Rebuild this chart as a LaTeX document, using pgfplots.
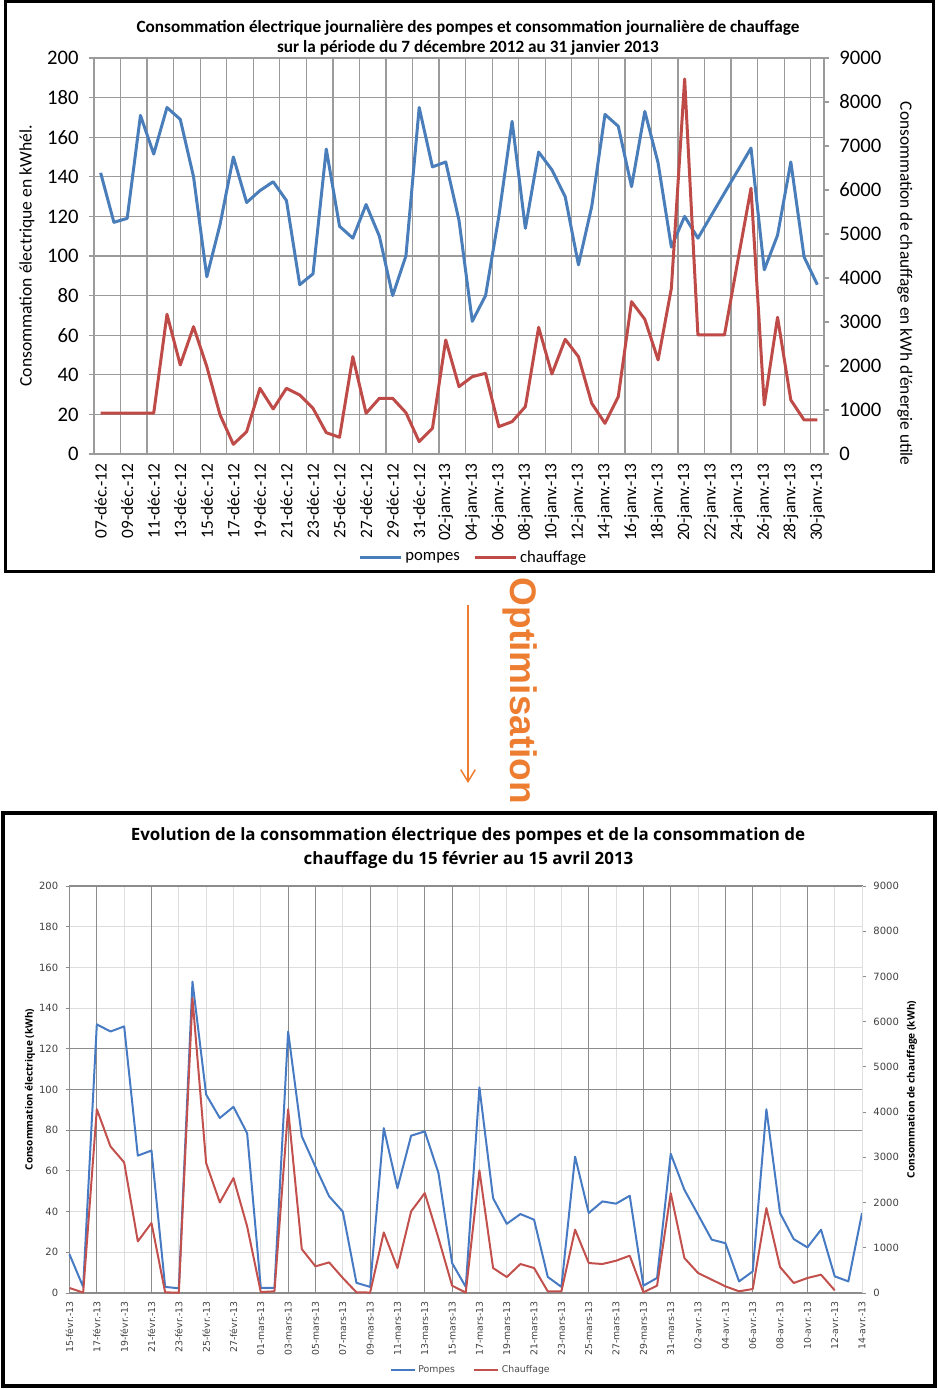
\documentclass[border=0pt]{standalone}
\usepackage{fontspec}
\setmainfont{Carlito}
\newfontfamily\ctwo{DejaVu Sans}
\newfontfamily\ctwot{Open Sans}
\newfontfamily\optfont{Liberation Sans}
\usepackage{pgfplots}
\usepackage{pgfplotstable}
\pgfplotsset{compat=1.18}
\usetikzlibrary{arrows.meta}

\definecolor{c1blue}{RGB}{74,126,187}
\definecolor{c1red}{RGB}{190,75,72}
\definecolor{c2blue}{RGB}{70,122,195}
\definecolor{c2red}{RGB}{194,80,77}
\definecolor{gridg}{RGB}{155,155,155}
\definecolor{gridl}{RGB}{222,222,222}
\definecolor{gridd}{RGB}{140,140,140}
\definecolor{orng}{RGB}{237,125,49}

% chart 1 : 07 dec 2012 (day 0) -> 30 jan 2013 (day 54)
\pgfplotstableread{
d v
0 142
1 117
2 119
3 171
4 151.5
5 175
6 169
7 140
8 89.5
9 116
10 150
11 127
12 133
13 137.5
14 128
15 85.5
16 91
17 154
18 115
19 109
20 126
21 110
22 80
23 100
24 175
25 145
26 147.5
27 118
28 67
29 80
30 120
31 168
32 114
33 152.5
34 143.5
35 130
36 95.5
37 125
38 171.5
39 165.5
40 135
41 173
42 147
43 104.5
44 120
45 109
46 120.4
47 131.8
48 143.1
49 154.5
50 93
51 110.5
52 147.5
53 99.5
54 85.5
}\pompesA

\pgfplotstableread{
d v
0 930
1 930
2 930
3 930
4 930
5 3175
6 2023
7 2894
8 1985
9 886
10 220
11 507
12 1493
13 1023
14 1493
15 1341
16 1038
17 485
18 379
19 2212
20 925
21 1265
22 1265
23 940
24 280
25 583
26 2591
27 1530
28 1758
29 1834
30 621
31 735
32 1076
33 2879
34 1818
35 2606
36 2212
37 1152
38 697
39 1303
40 3462
41 3061
42 2137
43 3766
44 8524
45 2705
46 2705
47 2705
48 4380
49 6039
50 1114
51 3107
52 1227
53 773
54 773
}\chauffA

% chart 2 : 15 feb 2013 (day 0) -> 14 apr 2013 (day 58)
\pgfplotstableread{
d v
0 19
1 3
2 132
3 128.5
4 131
5 67.5
6 70
7 3
8 2.3
9 153
10 97.5
11 86
12 91.5
13 78.5
14 2.5
15 2.5
16 128.5
17 77
18 62
19 47.5
20 40
21 5
22 3
23 81
24 51.5
25 77.3
26 79.4
27 59
28 14.7
29 3
30 101
31 46.6
32 34
33 38.8
34 36
35 7.9
36 3
37 67
38 39.3
39 45
40 43.9
41 47.8
42 3.6
43 7.4
44 68.4
45 50.7
46 38.5
47 26.2
48 24.5
49 5.7
50 10.6
51 90.3
52 39.3
53 26.5
54 22.4
55 31.1
56 8.2
57 5.7
58 39.3
}\pompesB

\pgfplotstableread{
d v
0 110
1 10
2 4065
3 3240
4 2888
5 1142
6 1547
7 15
8 5
9 6518
10 2872
11 2003
12 2541
13 1473
14 20
15 37
16 4065
17 972
18 589
19 677
20 332
21 15
22 10
23 1340
24 552
25 1804
26 2209
27 1215
28 162
29 10
30 2710
31 552
32 353
33 641
34 552
35 37
36 37
37 1400
38 663
39 641
40 714
41 825
42 15
43 162
44 2209
45 773
46 442
47 295
48 147
49 37
50 88
51 1878
52 574
53 221
54 331
55 405
56 59
}\chauffB

\begin{document}
\begin{tikzpicture}
\path[use as bounding box] (0,0) rectangle (703.5pt,1041.75pt);

% ---------- chart 1 ----------
\pgfplotsset{
  chartone/.style={
    at={(70.5pt,701.25pt)}, anchor=south west,
    scale only axis, width=547.5pt, height=297pt,
    xmin=-0.5, xmax=54.5, clip=false,
    axis line style={draw=gridg, line width=0.9pt},
    tick align=outside, major tick length=4pt,
    x tick style={draw=none},
    y tick style={draw=gridg, line width=0.9pt},
    tick label style={font=\fontsize{15.5}{16}\selectfont},
    /pgf/number format/assume math mode=true,
    /pgf/number format/1000 sep={},
    scaled y ticks=false,
  }
}
\begin{axis}[chartone,
  ymin=0, ymax=200, ytick={0,20,...,200}, ytick pos=left,
  xtick={0,2,...,54},
  xticklabels={07-déc.-12,09-déc.-12,11-déc.-12,13-déc.-12,15-déc.-12,17-déc.-12,19-déc.-12,21-déc.-12,23-déc.-12,25-déc.-12,27-déc.-12,29-déc.-12,31-déc.-12,02-janv.-13,04-janv.-13,06-janv.-13,08-janv.-13,10-janv.-13,12-janv.-13,14-janv.-13,16-janv.-13,18-janv.-13,20-janv.-13,22-janv.-13,24-janv.-13,26-janv.-13,28-janv.-13,30-janv.-13},
  xticklabel style={rotate=90, anchor=east, font=\fontsize{13}{13}\selectfont},
  yticklabel style={xshift=-4pt},
  minor xtick={1.5,3.5,...,53.5},
  xminorgrids=true, ymajorgrids=true,
  minor grid style={draw=gridg, line width=0.9pt},
  major grid style={draw=gridg, line width=0.9pt},
  every axis y label/.style={at={(axis description cs:-0.092,0.5)}, rotate=90, anchor=center,
    font=\fontsize{13.2}{14}\selectfont},
  ylabel={Consommation électrique en kWhél.},
]
\addplot[c1blue, line width=2.25pt, line join=round] table[x=d, y=v] {\pompesA};
\end{axis}
\begin{axis}[chartone,
  ymin=0, ymax=9000, ytick={0,1000,...,9000},
  axis x line=none, axis y line*=right,
  yticklabel style={xshift=4pt},
  every axis y label/.style={at={(axis description cs:1.111,0.43)}, rotate=-90, anchor=center,
    font=\fontsize{13}{14}\selectfont},
  ylabel={Consommation de chauffage en kWh d’énergie utile},
  legend style={at={(0.52,-0.262)}, anchor=center, draw=none, fill=none,
    legend columns=2, font=\fontsize{12.5}{13}\selectfont,
    /tikz/every even column/.append style={column sep=8pt}},
  legend image code/.code={\draw[#1] (0pt,0pt) -- (31pt,0pt);},
]
\addlegendimage{c1blue, line width=2.25pt}
\addlegendentry{pompes}
\addplot[c1red, line width=2.25pt, line join=round] table[x=d, y=v] {\chauffA};
\addlegendentry{chauffage}
\end{axis}

\node[font=\bfseries\fontsize{12.9}{13}\selectfont] at (351pt,1020.75pt)
  {Consommation électrique journalière des pompes et consommation journalière de chauffage};
\node[font=\bfseries\fontsize{12.9}{13}\selectfont] at (351pt,1005.75pt)
  {sur la période du 7 décembre 2012 au 31 janvier 2013};
\draw[line width=2.25pt] (3.75pt,1040.25pt) rectangle (699.75pt,612.75pt);

% ---------- arrow ----------
\draw[orng, line width=1.1pt, -{Straight Barb[length=9pt,width=11pt]}] (351pt,588pt) -- (351pt,454.5pt);
\node[orng, rotate=-90, font=\optfont\bfseries\fontsize{27.75}{28}\selectfont] at (390pt,523.5pt) {Optimisation};

% ---------- chart 2 ----------
\pgfplotsset{
  charttwo/.style={
    at={(52.125pt,72pt)}, anchor=south west,
    scale only axis, width=594.4pt, height=305.25pt,
    xmin=0, xmax=58, clip=false,
    axis line style={draw=gridd, line width=0.8pt},
    tick align=outside, major tick length=3pt,
    x tick style={draw=none},
    y tick style={draw=gridd, line width=0.6pt},
    tick label style={font=\ctwo\fontsize{7.5}{8}\selectfont, text=black!75},
    /pgf/number format/assume math mode=true,
    /pgf/number format/1000 sep={},
    scaled y ticks=false,
  }
}
\begin{axis}[charttwo,
  ymin=0, ymax=200, ytick={0,20,...,200}, ytick pos=left,
  xtick={0,2,...,58},
  xticklabels={15-févr.-13,17-févr.-13,19-févr.-13,21-févr.-13,23-févr.-13,25-févr.-13,27-févr.-13,01-mars-13,03-mars-13,05-mars-13,07-mars-13,09-mars-13,11-mars-13,13-mars-13,15-mars-13,17-mars-13,19-mars-13,21-mars-13,23-mars-13,25-mars-13,27-mars-13,29-mars-13,31-mars-13,02-avr.-13,04-avr.-13,06-avr.-13,08-avr.-13,10-avr.-13,12-avr.-13,14-avr.-13},
  xticklabel style={rotate=90, anchor=east, font=\ctwo\fontsize{7}{7}\selectfont},
  yticklabel style={xshift=-2pt},
  xmajorgrids=true, ymajorgrids=true,
  major grid style={draw=gridl, line width=0.8pt},
  extra x ticks={2,6,16,18,22,26,28,38,42,44,48,50,54},
  extra x tick labels={},
  extra x tick style={grid=major, major grid style={draw=gridd, line width=0.8pt}},
  extra y ticks={80,100,120},
  extra y tick labels={},
  extra y tick style={grid=major, major grid style={draw=gridd, line width=0.8pt}},
  every axis y label/.style={at={(axis description cs:-0.05,0.5)}, rotate=90, anchor=center,
    font=\ctwot\bfseries\fontsize{7.5}{8}\selectfont},
  ylabel={Consommation électrique (kWh)},
]
\addplot[c2blue, line width=1.5pt, line join=round] table[x=d, y=v] {\pompesB};
\end{axis}
\begin{axis}[charttwo,
  ymin=0, ymax=9000, ytick={0,1000,...,9000},
  axis x line=none, axis y line*=right,
  y axis line style={draw=gridl},
  yticklabel style={xshift=2pt},
  every axis y label/.style={at={(axis description cs:1.063,0.5)}, rotate=90, anchor=center,
    font=\ctwot\bfseries\fontsize{7.6}{8}\selectfont},
  ylabel={Consommation de chauffage (kWh)},
  legend style={at={(0.507,-0.189)}, anchor=center, draw=none, fill=none,
    legend columns=2, font=\ctwo\fontsize{7}{7}\selectfont, text=black!70,
    /tikz/every even column/.append style={column sep=12pt}},
  legend image code/.code={\draw[#1] (0pt,0pt) -- (18pt,0pt);},
]
\addlegendimage{c2blue, line width=1.1pt}
\addlegendentry{Pompes}
\addplot[c2red, line width=1.5pt, line join=round, forget plot] table[x=d, y=v] {\chauffB};
\addlegendimage{c2red, line width=1.1pt}
\addlegendentry{Chauffage}
\end{axis}

\node[font=\ctwot\bfseries\fontsize{12.7}{13}\selectfont] at (351pt,414.75pt)
  {Evolution de la consommation électrique des pompes et de la consommation de};
\node[font=\ctwot\bfseries\fontsize{12.7}{13}\selectfont] at (351.4pt,396.75pt)
  {chauffage du 15 février au 15 avril 2013};
\draw[line width=2.6pt] (2.25pt,432pt) rectangle (701.25pt,2.25pt);
\end{tikzpicture}
\end{document}
